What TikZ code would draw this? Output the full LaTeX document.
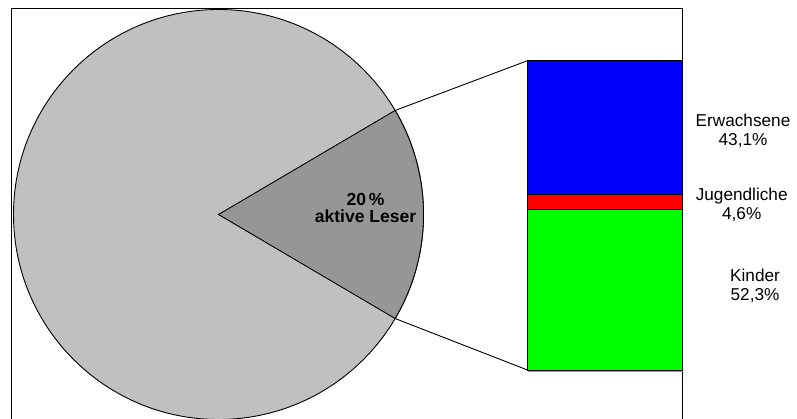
\documentclass[tikz,border=0pt]{standalone}
\usepackage{fontspec}
\setmainfont{Liberation Sans}
\definecolor{pielight}{HTML}{C0C0C0}
\definecolor{piedark}{HTML}{969696}
\definecolor{barblue}{HTML}{0000FF}
\definecolor{barred}{HTML}{FF0000}
\definecolor{bargreen}{HTML}{00FF00}
\tikzset{
  thinline/.style={draw=black, line width=0.9pt},
  lbl/.style={font=\fontsize{17.2}{19}\selectfont, align=center, inner sep=0pt},
  boldlbl/.style={font=\bfseries\fontsize{17.5}{16.5}\selectfont, align=center, inner sep=0pt},
}
\begin{document}
\begin{tikzpicture}[x=1pt,y=-1pt]
\useasboundingbox (0,0) rectangle (797,419);
\clip (0,0) rectangle (797,419);
\fill[white] (0,0) rectangle (797,419);
% frame
\draw[thinline] (11,430) -- (11,8.7) -- (682.7,8.7) -- (682.7,430);
% pie
\coordinate (A) at (218.5,214.5);
\filldraw[fill=pielight, thinline] (A) circle[radius=205];
\path (A) ++(-30.5:205) coordinate (U);
\path (A) ++(30.5:205) coordinate (L);
\fill[piedark] (A) -- (U) arc[start angle=-30.5, end angle=30.5, radius=205] -- cycle;
\draw[thinline] (U) arc[start angle=-30.5, end angle=30.5, radius=205];
\draw[thinline] (U) -- (A) -- (L);
\node[boldlbl] (pct) at (365.5,208) {20\,\%\\aktive Leser};
% bar
\coordinate (B1) at (527.5,60.7);
\coordinate (B2) at (527.5,370);
\fill[bargreen] (527.5,209) rectangle (682.7,371.5);
\filldraw[fill=barblue, thinline] (B1) rectangle (682.7,194.3);
\filldraw[fill=barred, thinline] (527.5,194.3) rectangle (682.7,209);
\draw[thinline] (527.5,209) -- (B2) -- (682.7,370) -- (682.7,209);
% connectors
\draw[thinline] (U) -- (B1);
\draw[thinline] (L) -- (B2);
% labels
\node[lbl] (erw) at (743,131) {Erwachsene\\43,1\%};
\node[lbl] (jug) at (741.7,204.5) {Jugendliche\\4,6\%};
\node[lbl] (kin) at (755,285.5) {Kinder\\52,3\%};
\end{tikzpicture}
\end{document}
